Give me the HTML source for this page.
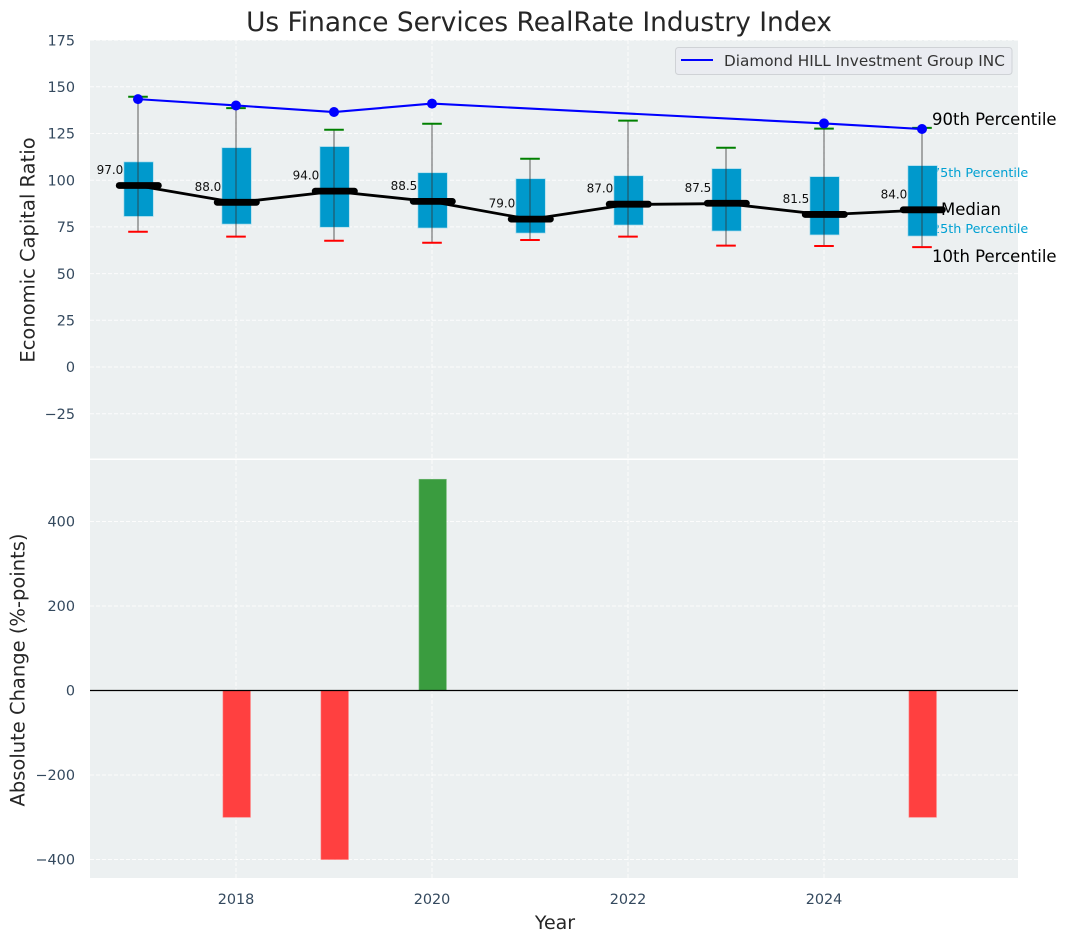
<!DOCTYPE html>
<html>
<head>
<meta charset="utf-8">
<title>Us Finance Services RealRate Industry Index</title>
<style>
html,body{margin:0;padding:0;background:#fff;}
svg{display:block;}
text{font-family:"DejaVu Sans","Liberation Sans",sans-serif;}
</style>
</head>
<body>
<svg id="chart" xmlns="http://www.w3.org/2000/svg" width="1067" height="942" viewBox="0 0 1067 942">
  <rect x="90" y="40" width="928" height="418.5" fill="#ecf0f1"/>
  <rect x="90" y="460" width="928" height="418" fill="#ecf0f1"/>
  <g id="grid"></g>
  <g id="ticks"></g>
  <g id="annotations"></g>
  <g id="boxes"></g>
  <g id="lines"></g>
  <g id="bars"></g>
  <text x="539" y="31" text-anchor="middle" font-size="26.4" fill="#262626">Us Finance Services RealRate Industry Index</text>
  <text transform="translate(34.5,250) rotate(-90)" text-anchor="middle" font-size="19.5" fill="#262626">Economic Capital Ratio</text>
  <text transform="translate(24.5,670) rotate(-90)" text-anchor="middle" font-size="19.5" fill="#262626">Absolute Change (%-points)</text>
  <text x="555" y="929" text-anchor="middle" font-size="19" fill="#262626">Year</text>
  <g>
    <rect x="675.5" y="47.5" width="336.5" height="27" rx="3" fill="#eaecf1" stroke="#cfd2d6" stroke-width="1"/>
    <line x1="681" y1="60" x2="713" y2="60" stroke="#0000ff" stroke-width="2"/>
    <text x="724" y="66" font-size="15.27" fill="#333">Diamond HILL Investment Group INC</text>
  </g>
</svg>
<script>
var years = [2017, 2018, 2019, 2020, 2021, 2022, 2023, 2024, 2025];
var whiskerHigh = [144.7, 138.6, 127, 130.2, 111.5, 131.9, 117.4, 127.6, 128];
var whiskerLow = [72.4, 69.8, 67.6, 66.5, 68, 69.8, 65, 64.8, 64.2];
var q3Values = [109.8, 117.4, 118, 104, 100.8, 102.4, 106.2, 101.9, 107.8];
var q1Values = [80.6, 76.5, 74.8, 74.4, 71.7, 76, 72.8, 70.7, 70.1];
var medians = [97, 88, 94, 88.5, 79, 87, 87.5, 81.5, 84];
var companyValues = [143.4, 140, 136.5, 141, null, null, null, 130.4, 127.4];
var changeValues = [null, -300, -400, 500, null, null, null, null, -300];
var topTicks = [175, 150, 125, 100, 75, 50, 25, 0, -25];
var bottomTicks = [400, 200, 0, -200, -400];
var xTicks = [2018, 2020, 2022, 2024];

var NS = 'http://www.w3.org/2000/svg';
function xScale(year) { return 138 + (year - 2017) * 98; }
function yTop(v) { return 367 - 1.868 * v; }
function yBottom(v) { return 690.5 - 0.4225 * v; }
function widthYears(w) { return w * 98; }

function make(parent, tag, attrs, content) {
  var el = document.createElementNS(NS, tag);
  for (var k in attrs) { el.setAttribute(k, attrs[k]); }
  if (content !== undefined) { el.textContent = content; }
  parent.appendChild(el);
  return el;
}
function fmt(v) { return String(v).replace('-', '\u2212'); }

var gridG = document.getElementById('grid');
var ticksG = document.getElementById('ticks');
var annG = document.getElementById('annotations');
var boxesG = document.getElementById('boxes');
var linesG = document.getElementById('lines');
var barsG = document.getElementById('bars');
var el;

xTicks.forEach(function (t) {
  var x = xScale(t);
  el = make(gridG, 'line', {x1: x, x2: x, y1: 40, y2: 458.5, stroke: '#fff', 'stroke-width': 1, 'stroke-dasharray': '4 2', opacity: 0.85});
  
  
  el = make(gridG, 'line', {x1: x, x2: x, y1: 460, y2: 878, stroke: '#fff', 'stroke-width': 1, 'stroke-dasharray': '4 2', opacity: 0.85});
  
  
  el = make(ticksG, 'text', {x: x, y: 904, 'text-anchor': 'middle', 'font-size': 14.4, fill: '#34495e'}, String(t));
  
  
});
topTicks.forEach(function (t) {
  var y = yTop(t);
  el = make(gridG, 'line', {x1: 90, x2: 1018, y1: y, y2: y, stroke: '#fff', 'stroke-width': 1, 'stroke-dasharray': '4 2', opacity: 0.85});
  
  
  el = make(ticksG, 'text', {x: 75, y: y + 5.2, 'text-anchor': 'end', 'font-size': 14.4, fill: '#34495e'}, fmt(t));
  
  
});
bottomTicks.forEach(function (t) {
  var y = yBottom(t);
  el = make(gridG, 'line', {x1: 90, x2: 1018, y1: y, y2: y, stroke: '#fff', 'stroke-width': 1, 'stroke-dasharray': '4 2', opacity: 0.85});
  
  
  el = make(ticksG, 'text', {x: 75, y: y + 5.2, 'text-anchor': 'end', 'font-size': 14.4, fill: '#34495e'}, fmt(t));
  
  
});

var lastX = xScale(years[years.length - 1]);
var lastIdx = years.length - 1;
el = make(annG, 'text', {x: lastX + 10, y: yTop(whiskerHigh[lastIdx]) - 3, 'font-size': 16.5, fill: '#000'}, '90th Percentile');


el = make(annG, 'text', {x: lastX + 10, y: yTop(q3Values[lastIdx]) + 11.4, 'font-size': 12.75, fill: '#00a0d2'}, '75th Percentile');


el = make(annG, 'text', {x: lastX + 19, y: yTop(medians[lastIdx]) + 5, 'font-size': 16.5, fill: '#000'}, 'Median');


el = make(annG, 'text', {x: lastX + 10, y: yTop(q1Values[lastIdx]) - 3, 'font-size': 12.75, fill: '#00a0d2'}, '25th Percentile');


el = make(annG, 'text', {x: lastX + 10, y: yTop(whiskerLow[lastIdx]) + 14.7, 'font-size': 16.5, fill: '#000'}, '10th Percentile');



years.forEach(function (yr, i) {
  var x = xScale(yr);
  var hw = widthYears(0.15);
  el = make(boxesG, 'rect', {x: x - hw + 0.6, y: yTop(q3Values[i]), width: hw * 2, height: yTop(q1Values[i]) - yTop(q3Values[i]), fill: '#0099cc', stroke: '#a9dced', 'stroke-width': 0.7});
  
  
  el = make(boxesG, 'line', {x1: x, x2: x, y1: yTop(whiskerHigh[i]), y2: yTop(whiskerLow[i]), stroke: '#333', 'stroke-opacity': 0.6, 'stroke-width': 1.3});
  
  
  el = make(boxesG, 'line', {x1: x - widthYears(0.1), x2: x + widthYears(0.1), y1: yTop(whiskerHigh[i]), y2: yTop(whiskerHigh[i]), stroke: '#008000', 'stroke-width': 2});
  
  
  el = make(boxesG, 'line', {x1: x - widthYears(0.1), x2: x + widthYears(0.1), y1: yTop(whiskerLow[i]), y2: yTop(whiskerLow[i]), stroke: '#ff0000', 'stroke-width': 2});
  
  
  el = make(boxesG, 'text', {x: x - widthYears(0.15), y: yTop(medians[i]) - 11.8, 'text-anchor': 'end', 'font-size': 12, fill: '#111'}, medians[i].toFixed(1));
  
  
});

var medianPts = years.map(function (yr, i) { return xScale(yr) + ',' + yTop(medians[i]); }).join(' ');
el = make(linesG, 'polyline', {points: medianPts, fill: 'none', stroke: '#000', 'stroke-width': 2.8, 'stroke-linejoin': 'round'});


years.forEach(function (yr, i) {
  var x = xScale(yr) + 0.8;
  el = make(linesG, 'line', {x1: x - widthYears(0.2), x2: x + widthYears(0.2), y1: yTop(medians[i]) - 0.3, y2: yTop(medians[i]) - 0.3, stroke: '#000', 'stroke-width': 6.8, 'stroke-linecap': 'round'});
  
  
});

var companyPts = [];
years.forEach(function (yr, i) {
  if (companyValues[i] !== null) { companyPts.push(xScale(yr) + ',' + yTop(companyValues[i])); }
});
el = make(linesG, 'polyline', {points: companyPts.join(' '), fill: 'none', stroke: '#0000ff', 'stroke-width': 2.1});


years.forEach(function (yr, i) {
  if (companyValues[i] === null) { return; }
  el = make(linesG, 'circle', {cx: xScale(yr), cy: yTop(companyValues[i]), r: 5, fill: '#0000ff'});
  
  
});

years.forEach(function (yr, i) {
  var v = changeValues[i];
  if (v === null) { return; }
  var hw = widthYears(0.14);
  var y0 = yBottom(0), y1 = yBottom(v);
  el = make(barsG, 'rect', {x: xScale(yr) - hw + 0.7, y: Math.min(y0, y1), width: hw * 2, height: Math.abs(y1 - y0), fill: v >= 0 ? '#3a9c3f' : '#ff4040', stroke: v >= 0 ? '#79bb7c' : '#ff7575', 'stroke-width': 0.6});
  
  
});
el = make(barsG, 'line', {x1: 90, x2: 1018, y1: yBottom(0), y2: yBottom(0), stroke: '#000', 'stroke-width': 1.3});


</script>
</body>
</html>
